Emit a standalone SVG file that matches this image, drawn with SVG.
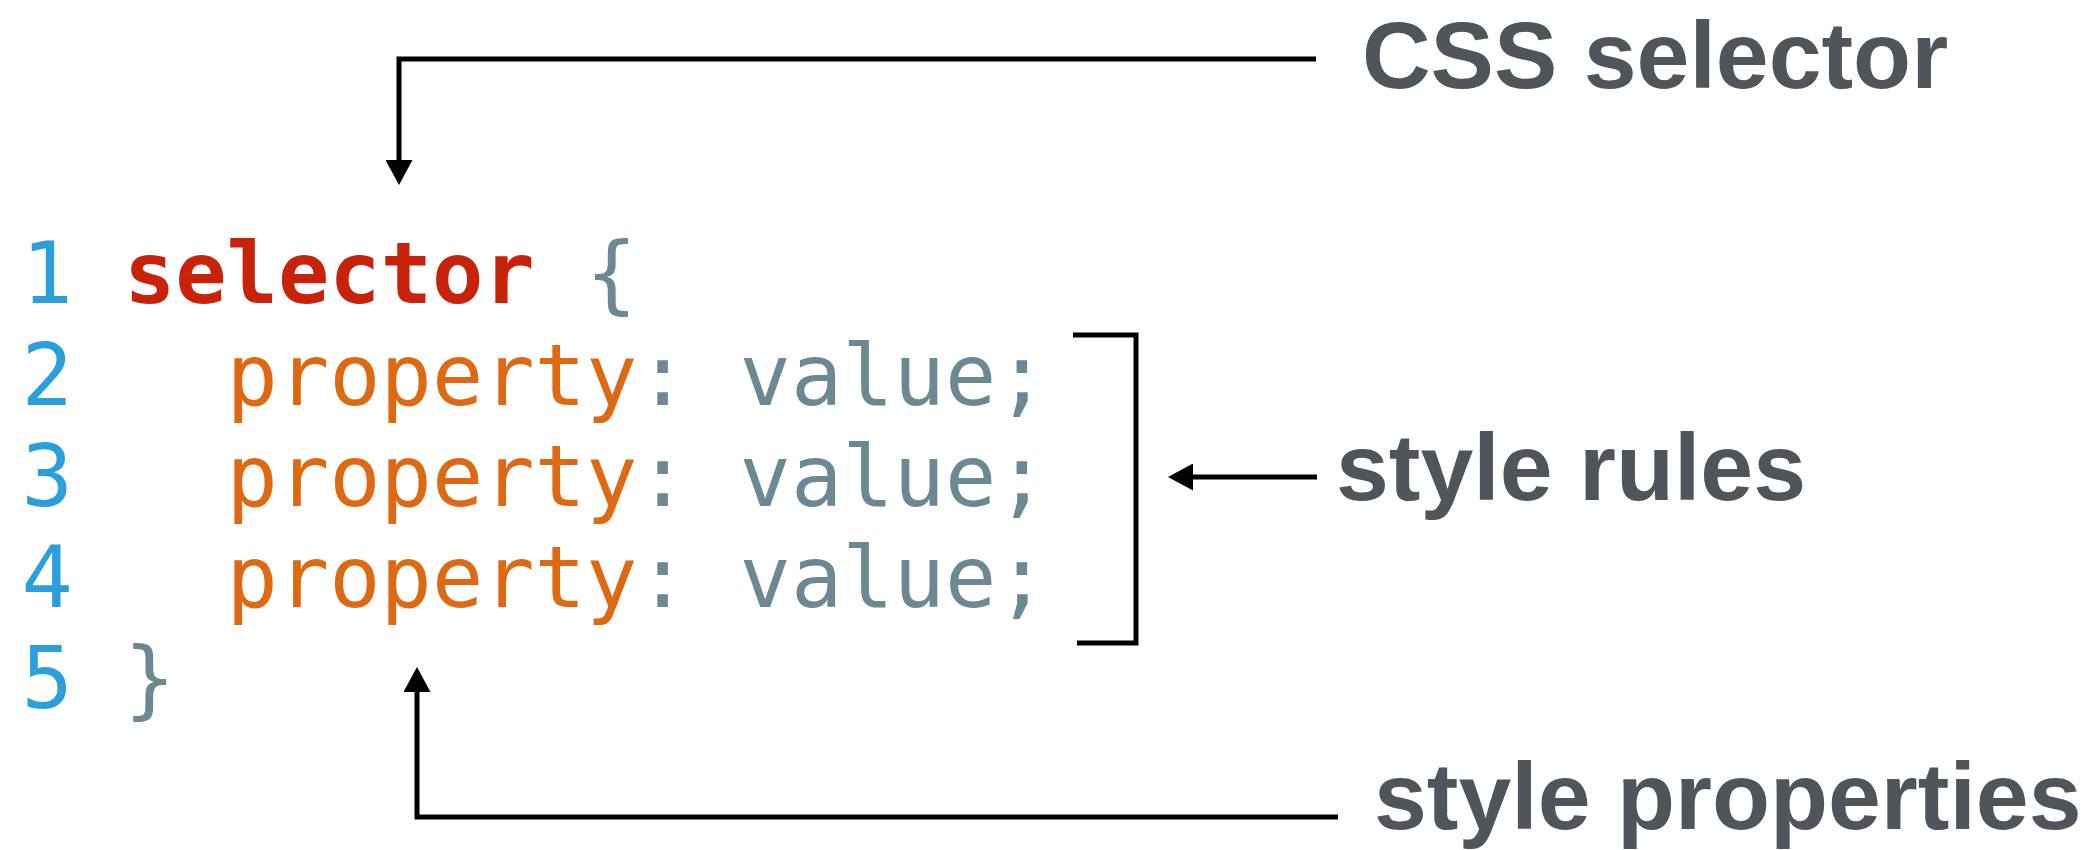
<svg xmlns="http://www.w3.org/2000/svg" width="2099" height="850" viewBox="0 0 2099 850">
<style>
.code{font-family:"DejaVu Sans Mono","Liberation Mono",monospace;font-size:86px}
.num{fill:#2a9fdb}
.sel{fill:#c8230a;font-weight:bold}
.prop{fill:#dd6912}
.val{fill:#6c8893}
.lbl{font-family:"Liberation Sans",Arial,sans-serif;font-weight:bold;font-size:95px;fill:#50555c}
.ln{fill:none;stroke:#000;stroke-width:5}
</style>
<defs>
<marker id="ah" viewBox="0 0 25 27" refX="0" refY="13.5" markerWidth="25" markerHeight="27" markerUnits="userSpaceOnUse" orient="auto">
<path d="M0,0 L25,13.5 L0,27 Z" fill="#000"/>
</marker>
</defs>
<rect width="2099" height="850" fill="#fff"/>
<g id="code" transform="scale(0.9917 1)">
<text class="code"><tspan class="num" x="21.6" y="303">1</tspan><tspan class="sel" x="125" y="303">selector</tspan><tspan class="val" x="590.6" y="303">{</tspan></text>
<text class="code"><tspan class="num" x="21.6" y="405">2</tspan><tspan class="prop" x="228.5" y="405">property</tspan><tspan class="val" x="642.3" y="405">:</tspan><tspan class="val" x="745.8" y="405">value;</tspan></text>
<text class="code"><tspan class="num" x="21.6" y="506">3</tspan><tspan class="prop" x="228.5" y="506">property</tspan><tspan class="val" x="642.3" y="506">:</tspan><tspan class="val" x="745.8" y="506">value;</tspan></text>
<text class="code"><tspan class="num" x="21.6" y="607">4</tspan><tspan class="prop" x="228.5" y="607">property</tspan><tspan class="val" x="642.3" y="607">:</tspan><tspan class="val" x="745.8" y="607">value;</tspan></text>
<text class="code"><tspan class="num" x="21.6" y="708">5</tspan><tspan class="val" x="125" y="708">}</tspan></text>
</g>
<g id="label-css-selector"><text class="lbl" x="1362" y="88">CSS selector</text></g>
<g id="label-style-rules"><text class="lbl" x="1336" y="500">style rules</text></g>
<g id="label-style-properties"><text class="lbl" x="1374" y="829">style properties</text></g>
<g id="connectors">
<path class="ln" d="M1316,59 H399 V160" marker-end="url(#ah)"/>
<path class="ln" d="M1338,817 H417 V692" marker-end="url(#ah)"/>
<path class="ln" d="M1317,477 H1193" marker-end="url(#ah)"/>
<path class="ln" d="M1073,335 H1136 V643 H1077"/>
</g>
</svg>
